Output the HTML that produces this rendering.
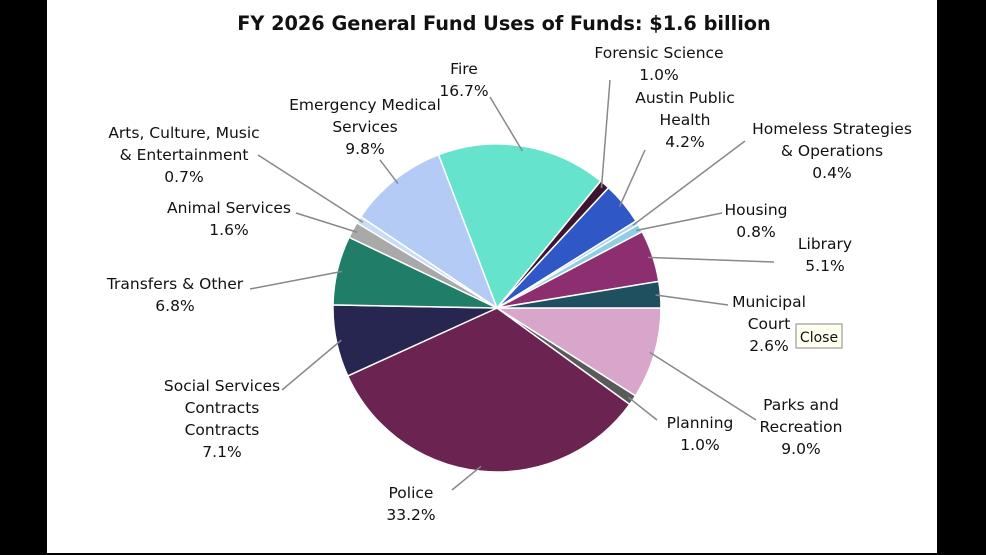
<!DOCTYPE html>
<html><head><meta charset="utf-8"><style>
html,body{margin:0;padding:0;background:#000;}
#wrap{position:relative;width:986px;height:555px;background:#000;overflow:hidden;}
svg{position:absolute;left:0;top:0;}
text{font-family:"DejaVu Sans","Liberation Sans",sans-serif;font-size:15.5px;fill:#111;}
</style></head><body>
<div id="wrap">
<svg id="chart" width="986" height="555">
<rect x="47" y="0" width="890" height="553" fill="#fff"/>
<text x="504" y="30" text-anchor="middle" style="font-size:19.3px;font-weight:bold">FY 2026 General Fund Uses of Funds: $1.6 billion</text>
<g id="slices"></g><g id="leaders"></g><g id="labels"></g>
<g>
<rect x="796" y="324" width="46" height="24" fill="#fffff0" stroke="#888"/>
<text x="819" y="342" text-anchor="middle" style="font-size:14px">Close</text>
</g>
</svg>
</div>
<script>
const categories = ["Parks and Recreation","Planning","Police","Social Services Contracts","Transfers & Other","Animal Services","Arts, Culture, Music & Entertainment","Emergency Medical Services","Fire","Forensic Science","Austin Public Health","Homeless Strategies & Operations","Housing","Library","Municipal Court"];
const values = [9.0,1.0,33.2,7.1,6.8,1.6,0.7,9.8,16.7,1.0,4.2,0.4,0.8,5.1,2.6];
const colors = ["#d9a6cb","#5a5a5a","#6b2352","#262650","#1f7d68","#a9a9a9","#c9dcf6","#b4cbf6","#66e3cc","#3d1530","#2f58c6","#add0ef","#8fcfe3","#8c2e70","#1f5060"];
const labelLines = [["Parks and","Recreation","9.0%"],["Planning","1.0%"],["Police","33.2%"],["Social Services","Contracts","Contracts","7.1%"],["Transfers & Other","6.8%"],["Animal Services","1.6%"],["Arts, Culture, Music","& Entertainment","0.7%"],["Emergency Medical","Services","9.8%"],["Fire","16.7%"],["Forensic Science","1.0%"],["Austin Public","Health","4.2%"],["Homeless Strategies","& Operations","0.4%"],["Housing","0.8%"],["Library","5.1%"],["Municipal","Court","2.6%"]];
// label anchor layout (positions, not data)
const labelPos = [[801,410,756,420],[700,428,657,420],[411,498,452,490],[222,391,282,390],[175,289,250,289],[229,213,296,213],[184,138,258,155],[365,110,380,160],[464,74,490,97],[659,58,610,80],[685,103,645,150],[832,134,745,141],[756,215,722,213],[825,249,774,262],[769,307,728,305]];
const cx=497, cy=308, R=164, startDeg=90;
const NS="http://www.w3.org/2000/svg";
const total = values.reduce((a,b)=>a+b,0);
function pt(deg,r){const a=(deg-90)*Math.PI/180;return [cx+r*Math.cos(a),cy+r*Math.sin(a)];}
const gS=document.getElementById('slices'),gL=document.getElementById('leaders'),gT=document.getElementById('labels');
let ang=startDeg;
values.forEach((v,i)=>{
  const sweep=v/total*360, a0=ang, a1=ang+sweep; ang=a1;
  const p0=pt(a0,R),p1=pt(a1,R);
  const path=document.createElementNS(NS,'path');
  path.setAttribute('d',`M${cx},${cy}L${p0[0]},${p0[1]}A${R},${R} 0 ${sweep>180?1:0} 1 ${p1[0]},${p1[1]}Z`);
  path.setAttribute('fill',colors[i]);path.setAttribute('stroke','#fff');path.setAttribute('stroke-width','1.5');
  
  
  gS.appendChild(path);
  const pm=pt((a0+a1)/2,R*0.97), lp=labelPos[i];
  const ln=document.createElementNS(NS,'line');
  ln.setAttribute('x1',lp[2]);ln.setAttribute('y1',lp[3]);ln.setAttribute('x2',pm[0]);ln.setAttribute('y2',pm[1]);
  ln.setAttribute('stroke','#888');ln.setAttribute('stroke-width','1.5');
  
  
  gL.appendChild(ln);
  const t=document.createElementNS(NS,'text');
  t.setAttribute('text-anchor','middle');
  
  
  labelLines[i].forEach((s,k)=>{const ts=document.createElementNS(NS,'tspan');ts.setAttribute('x',lp[0]);ts.setAttribute('y',lp[1]+k*22);ts.textContent=s;t.appendChild(ts);});
  gT.appendChild(t);
});
</script>
</body></html>
